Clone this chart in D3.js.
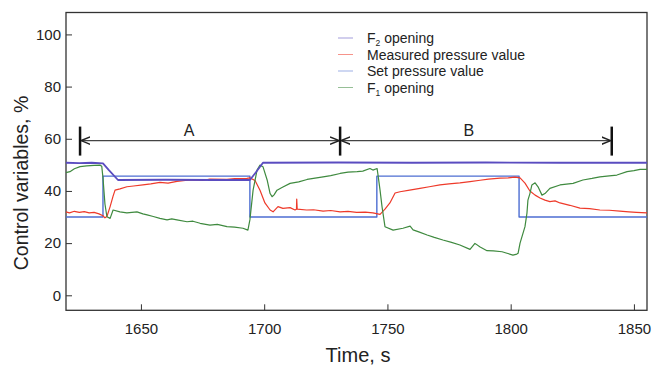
<!DOCTYPE html>
<meta charset="utf-8">
<title>Control variables vs time</title>
<style>
body { margin:0; background:#fff; }
text { font-family: "Liberation Sans", Arial, sans-serif; fill:#222; }
.tick text { font-size:15px; }
.frame { fill:none; stroke:#333; stroke-width:1.3px; }
.series { fill:none; stroke-linejoin:round; }
</style>
<body>
<div id="chart"></div>
<script src="https://d3js.org/d3.v7.min.js"></script>
<script>
var width = 652, height = 371;

// ---- data ----
var xTicks = [1650, 1700, 1750, 1800, 1850];
var yTicks = [0, 20, 40, 60, 80, 100];

// set pressure value: step levels and switch times
var setTimes  = [1619.6, 1634.6, 1694.2, 1745.7, 1803.4, 1855.3];
var setLevels = [30, 45.7, 30, 45.7, 30, 30];

// F2 opening
var f2Times  = [1619.6, 1625, 1630, 1634.6, 1637, 1640.7, 1660, 1680, 1694.2, 1696.5, 1699.5, 1730, 1760, 1790, 1820, 1855.3];
var f2Values = [50.8, 50.7, 50.8, 50.6, 48, 44.2, 44.3, 44.2, 44.2, 47, 50.8, 50.9, 50.8, 50.9, 50.8, 50.8];

// measured pressure value
var measTimes = [1619.6, 1621, 1623, 1625, 1627, 1629, 1631, 1633, 1634.6, 1635.4, 1636.2, 1637.5, 1638.7, 1639.5,
  1641.5, 1644.3, 1647, 1650.8, 1654, 1657.7, 1661, 1664.6, 1668, 1671.1, 1675, 1678, 1684.9, 1688, 1693,
  1694.2, 1696.3, 1698.3, 1700.3, 1702.4, 1703.6, 1705.6, 1707.6, 1710.5, 1712.5, 1713.1, 1713.2, 1713.4,
  1717.2, 1720, 1723.9, 1727, 1730.8, 1734, 1737.5, 1741, 1744.1, 1747, 1749, 1751, 1753.1, 1755.1, 1759,
  1763.2, 1767, 1771.3, 1775, 1779.4, 1783.5, 1787.6, 1791, 1795.7, 1799, 1801.7, 1803.8, 1805.8, 1807.8,
  1809.9, 1811.9, 1813.9, 1815.9, 1818, 1820, 1824, 1828.1, 1832, 1836.2, 1840, 1844.3, 1848, 1851, 1855.3];
var measValues = [32, 31.6, 32.2, 31.8, 32.1, 31.6, 31.8, 31.2, 30.5, 29.7, 30.2, 34, 38, 40.3,
  40.8, 41.6, 41.9, 42.3, 42.7, 43.3, 43.0, 43.7, 44.0, 44.2, 44.0, 44.5, 44.4, 44.7, 44.8,
  45, 44, 40.3, 35.4, 32.7, 32, 34, 33.3, 33.6, 32.7, 33, 36.9, 33,
  32.7, 32.8, 32.3, 32.5, 32, 32.2, 31.8, 31.9, 31.6, 31.0, 33, 35.4, 39.2, 39.7, 40.3,
  41, 41.6, 42.3, 42.7, 43.1, 43.6, 44.1, 44.5, 44.9, 45.0, 45.3, 45, 43, 40,
  38.4, 37.3, 36.5, 35.9, 36.2, 35.4, 34.5, 33.4, 33.2, 32.7, 32.6, 32.3, 32, 31.8, 31.6];

// F1 opening
var f1Times = [1619.6, 1621.2, 1623, 1625.3, 1628, 1631, 1633.4, 1634.1, 1634.6, 1635.4, 1636.2, 1637.5, 1638.7,
  1641.5, 1644.3, 1648.4, 1650.8, 1652.5, 1655, 1657.7, 1660.6, 1662.5, 1664.6, 1668.7, 1671.1, 1674, 1678,
  1681, 1684.9, 1688, 1691.4, 1693.4, 1694.2, 1695.5, 1697.1, 1698.3, 1699.5, 1701.2, 1702.4, 1703.2, 1704,
  1705.2, 1707.6, 1710.5, 1714, 1717.4, 1720, 1723.9, 1727, 1730.8, 1734, 1737.7, 1740, 1742.9, 1744.1,
  1745.8, 1746.2, 1747, 1747.8, 1749, 1752.3, 1756.3, 1759.2, 1760.4, 1763, 1766.1, 1769, 1772.5, 1776,
  1779.4, 1783.5, 1785.5, 1787.6, 1790.4, 1793, 1796.5, 1798.5, 1800.9, 1802.5, 1803, 1803.8, 1805.8,
  1806.6, 1807, 1807.8, 1808.6, 1809.9, 1811.1, 1812.7, 1813.9, 1815.9, 1820, 1825.3, 1829.3, 1833,
  1836.2, 1840, 1843.1, 1847.2, 1850, 1852.5, 1855.3];
var f1Values = [47.0, 47.4, 48.5, 49.3, 49.6, 49.8, 49.9, 49.5, 45, 35, 30.1, 29.5, 32.7,
  32, 31.6, 32, 31.2, 30.8, 30.2, 29.5, 28.9, 29.3, 28.9, 28.2, 28.4, 27.6, 26.9,
  27.2, 26.3, 26.1, 25.7, 25.0, 28.9, 40.3, 48, 49.9, 49.3, 44.2, 39, 37.8, 38.5,
  40.3, 41.5, 42.9, 43.5, 44.4, 44.8, 45.4, 45.9, 46.7, 47.2, 47.4, 47.6, 48.6, 48.0,
  48.6, 46, 40.3, 34, 26.3, 25, 25.7, 26.5, 25.1, 24.2, 23.1, 22.2, 21.2, 20.3,
  19.3, 17.6, 19.9, 18.5, 17.1, 17.0, 16.7, 16.1, 15.4, 15.8, 16.1, 20, 26.3,
  31.5, 36.5, 39, 42.3, 43.1, 41.6, 38.4, 39, 41, 42.3, 42.9, 44.2, 44.8,
  45.4, 45.8, 46.1, 47.4, 47.8, 48.3, 48.3];

// phase annotations
var phaseLabels = ["A", "B"];
var phaseBounds = [1625.3, 1730.8, 1841];
var phaseLevel = 59.3;

var legendNames = ["F2 opening", "Measured pressure value", "Set pressure value", "F1 opening"];
var colors = ["#5a4cc0", "#ee3a2a", "#4d6ed2", "#3f8a3f"];

// ---- scales ----
var x = d3.scaleLinear().domain([1619.6, 1855.3]).range([66, 647]);
var y = d3.scaleLinear().domain([-5.75, 108.4]).range([310.3, 12.5]);

var svg = d3.select("#chart").append("svg")
    .attr("width", width)
    .attr("height", height);

svg.append("defs").append("marker")
    .attr("id", "head")
    .attr("viewBox", "0 0 10 10")
    .attr("refX", 10).attr("refY", 5)
    .attr("markerWidth", 7).attr("markerHeight", 7)
    .attr("orient", "auto-start-reverse")
    .append("path")
    .attr("d", "M0,1 L10,5 L0,9")
    .attr("fill", "none")
    .attr("stroke", "#222")
    .attr("stroke-width", 1.6);

// axes, ticks inward
svg.append("g")
    .attr("transform", "translate(0," + y.range()[0] + ")")
    .call(d3.axisBottom(x).tickValues(xTicks).tickFormat(d3.format("d"))
      .tickSizeInner(-6).tickSizeOuter(0).tickPadding(13))
    .call(function(g) { g.select(".domain").remove(); g.selectAll("line").attr("stroke", "#333"); });

svg.append("g")
    .attr("transform", "translate(" + x.range()[0] + ",0)")
    .call(d3.axisLeft(y).tickValues(yTicks).tickSizeInner(-6).tickSizeOuter(0).tickPadding(5))
    .call(function(g) { g.select(".domain").remove(); g.selectAll("line").attr("stroke", "#333"); });

svg.append("rect")
    .attr("class", "frame")
    .attr("x", x.range()[0]).attr("y", y.range()[1])
    .attr("width", x.range()[1] - x.range()[0])
    .attr("height", y.range()[0] - y.range()[1]);

// axis titles
svg.append("text")
    .attr("x", 358).attr("y", 362)
    .attr("text-anchor", "middle")
    .style("font-size", "20px")
    .text("Time, s");

svg.append("text")
    .attr("transform", "translate(28,183)rotate(-90)")
    .attr("text-anchor", "middle")
    .style("font-size", "19.5px")
    .text("Control variables, %");

// series
function zipPts(ts, vs) { return ts.map(function(t, i) { return [t, vs[i]]; }); }

var line = d3.line().x(function(d) { return x(d[0]); }).y(function(d) { return y(d[1]); });
var stepLine = d3.line().x(function(d) { return x(d[0]); }).y(function(d) { return y(d[1]); }).curve(d3.curveStepAfter);

var plot = svg.append("g");

plot.append("path").datum(zipPts(setTimes, setLevels))
    .attr("class", "series").attr("d", stepLine)
    .attr("stroke", colors[2]).attr("stroke-width", 1.4);

plot.append("path").datum(zipPts(measTimes, measValues))
    .attr("class", "series").attr("d", line)
    .attr("stroke", colors[1]).attr("stroke-width", 1.2);

plot.append("path").datum(zipPts(f1Times, f1Values))
    .attr("class", "series").attr("d", line)
    .attr("stroke", colors[3]).attr("stroke-width", 1.2);

plot.append("path").datum(zipPts(f2Times, f2Values))
    .attr("class", "series").attr("d", line)
    .attr("stroke", colors[0]).attr("stroke-width", 1.8);

// phase markers
var ay = y(phaseLevel);
phaseBounds.forEach(function(b) {
  svg.append("line")
      .attr("x1", x(b)).attr("x2", x(b))
      .attr("y1", ay - 14).attr("y2", ay + 15)
      .attr("stroke", "#111").attr("stroke-width", 2.5);
});

phaseLabels.forEach(function(lab, i) {
  var x0 = x(phaseBounds[i]), x1 = x(phaseBounds[i + 1]);
  svg.append("line")
      .attr("x1", x0 + 1).attr("x2", x1 - 1)
      .attr("y1", ay).attr("y2", ay)
      .attr("stroke", "#444").attr("stroke-width", 1.3)
      .attr("marker-start", "url(#head)")
      .attr("marker-end", "url(#head)");
  svg.append("text")
      .attr("x", (x0 + x1) / 2 + (i == 0 ? -21 : -7))
      .attr("y", ay - 5)
      .attr("text-anchor", "middle")
      .style("font-size", "16px")
      .text(lab);
});

// legend
var legend = svg.append("g").attr("transform", "translate(338,38)");
legendNames.forEach(function(name, i) {
  var row = legend.append("g").attr("transform", "translate(0," + (i * 16.5) + ")");
  row.append("line")
      .attr("x1", 0).attr("x2", 15)
      .attr("stroke", colors[i]).attr("stroke-opacity", 0.55).attr("stroke-width", 1);
  var t = row.append("text").attr("x", 29).attr("y", 5).style("font-size", "14px");
  if (name.charAt(0) == "F") {
    t.append("tspan").text("F");
    t.append("tspan").attr("dy", 3).style("font-size", "8.5px").text(name.charAt(1));
    t.append("tspan").attr("dy", -3).text(name.slice(2));
  } else {
    t.text(name);
  }
});
</script>
</body>
</html>
